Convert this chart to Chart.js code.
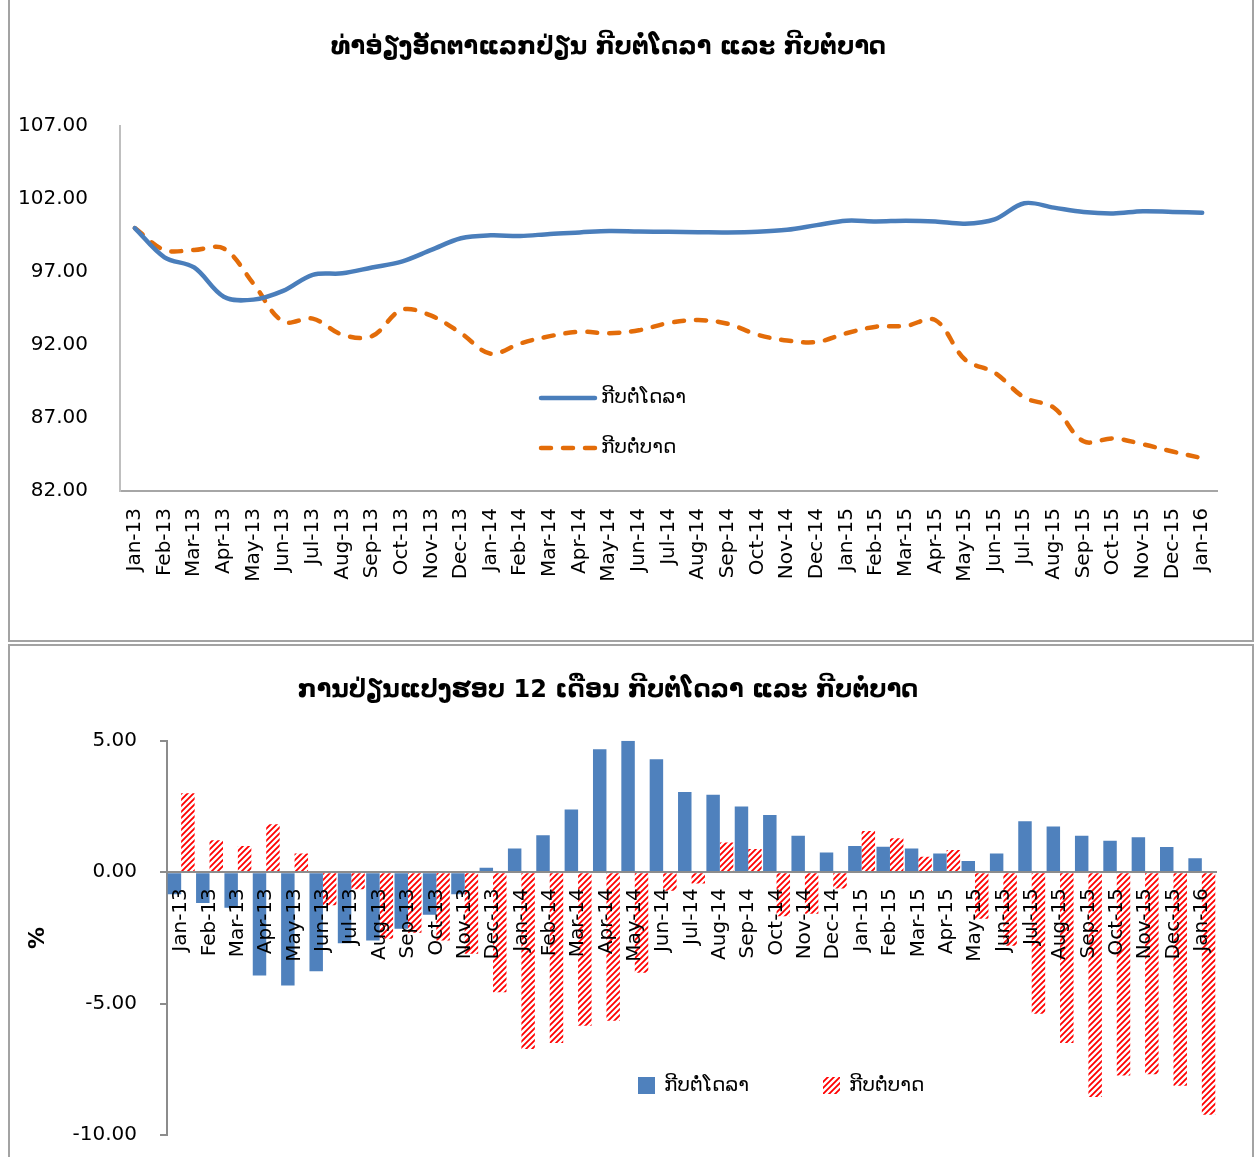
<!DOCTYPE html>
<html>
<head>
<meta charset="utf-8">
<script src="https://cdn.jsdelivr.net/npm/chart.js@4.4.1/dist/chart.umd.min.js"></script>
<style>
  html, body { margin: 0; padding: 0; background: #fff; overflow: hidden; }
  body { width: 1257px; height: 1157px; position: relative; }
  .panel { position: absolute; box-sizing: border-box; border: 2px solid #a3a3a3; }
  #p1 { left: 8px; top: -5px; width: 1246px; height: 647px; }
  #p2 { left: 8px; top: 644px; width: 1246px; height: 530px; }
  canvas { position: absolute; left: 0; }
  #lineChart { top: 0; }
  #barChart { top: 645px; }
</style>
</head>
<body>
<div class="panel" id="p1"></div>
<div class="panel" id="p2"></div>
<canvas id="lineChart" width="1257" height="642"></canvas>
<canvas id="barChart" width="1257" height="525"></canvas>
<script>
// DATA
const months = ['Jan-13', 'Feb-13', 'Mar-13', 'Apr-13', 'May-13', 'Jun-13', 'Jul-13', 'Aug-13', 'Sep-13', 'Oct-13', 'Nov-13', 'Dec-13',
    'Jan-14', 'Feb-14', 'Mar-14', 'Apr-14', 'May-14', 'Jun-14', 'Jul-14', 'Aug-14', 'Sep-14', 'Oct-14', 'Nov-14', 'Dec-14',
    'Jan-15', 'Feb-15', 'Mar-15', 'Apr-15', 'May-15', 'Jun-15', 'Jul-15', 'Aug-15', 'Sep-15', 'Oct-15', 'Nov-15', 'Dec-15', 'Jan-16'];

const usdLabel = 'ກີບຕໍ່ໂດລາ';
const thbLabel = 'ກີບຕໍ່ບາດ';
const title1 = 'ທ່າອ່ຽງອັດຕາແລກປ່ຽນ ກີບຕໍ່ໂດລາ ແລະ ກີບຕໍ່ບາດ';
const title2 = 'ການປ່ຽນແປງຮອບ 12 ເດືອນ ກີບຕໍ່ໂດລາ ແລະ ກີບຕໍ່ບາດ';

// index, Jan-13 = 100
const kipUsd = [100, 98.0, 97.3, 95.3, 95.1, 95.7, 96.8, 96.9, 97.3, 97.7, 98.5, 99.3,
    99.5, 99.45, 99.6, 99.7, 99.8, 99.76, 99.74, 99.72, 99.7, 99.74, 99.88, 100.2,
    100.5, 100.45, 100.5, 100.45, 100.3, 100.6, 101.7, 101.4, 101.1, 101.0, 101.15, 101.1, 101.05];
const kipThb = [100, 98.5, 98.5, 98.6, 96.2, 93.6, 93.8, 92.7, 92.6, 94.4, 94.0, 92.8,
    91.4, 92.1, 92.6, 92.9, 92.8, 93.0, 93.5, 93.7, 93.45, 92.7, 92.3, 92.2,
    92.8, 93.25, 93.3, 93.7, 91.0, 90.1, 88.4, 87.7, 85.4, 85.6, 85.2, 84.7, 84.25];
const indexTicks = [82, 87, 92, 97, 102, 107];

// 12-month change, %
const usdChange = [-0.84, -1.17, -1.35, -3.93, -4.31, -3.77, -2.7, -2.6, -2.15, -1.62, -0.84, 0.17,
    0.9, 1.41, 2.39, 4.68, 5.0, 4.3, 3.05, 2.95, 2.5, 2.18, 1.39, 0.75,
    1.0, 0.97, 0.9, 0.71, 0.43, 0.71, 1.94, 1.74, 1.39, 1.2, 1.33, 0.96, 0.53];
const thbChange = [3.0, 1.22, 1.0, 1.82, 0.71, -1.26, -0.65, -2.53, -2.3, -2.6, -3.1, -4.57,
    -6.73, -6.5, -5.84, -5.65, -3.83, -0.71, -0.43, 1.13, 0.88, -1.68, -1.58, -0.62,
    1.57, 1.29, 0.59, 0.84, -1.77, -2.8, -5.39, -6.5, -8.55, -7.74, -7.69, -8.13, -9.23];
const changeTicks = [-10, -5, 0, 5];

const FONT = 'DejaVu Sans';
const blue = '#4a7ebb';
const orange = '#e36c09';
const barBlue = '#4f81bd';

// red diagonal hatch like the excel pattern fill
function hatch() {
    const t = document.createElement('canvas');
    t.width = 6; t.height = 6;
    const g = t.getContext('2d');
    g.fillStyle = '#fff';
    g.fillRect(0, 0, 6, 6);
    g.strokeStyle = '#ff0000';
    g.lineWidth = 1.8;
    g.beginPath();
    g.moveTo(-1, 7); g.lineTo(7, -1);
    g.moveTo(-4, 4); g.lineTo(4, -4);
    g.moveTo(2, 10); g.lineTo(10, 2);
    g.stroke();
    return g.createPattern(t, 'repeat');
}
const redHatch = hatch();

// legend drawn inside the plot, as in the original
const insideLegend = {
    id: 'insideLegend',
    afterDraw(chart, args, opts) {
        const c = chart.ctx;
        c.save();
        c.font = '20px "' + FONT + '"';
        c.fillStyle = '#000';
        c.textBaseline = 'middle';
        c.textAlign = 'left';
        opts.items.forEach((it, i) => {
            const ds = chart.data.datasets[i];
            if (opts.kind === 'line') {
                c.strokeStyle = ds.borderColor;
                c.lineWidth = ds.borderWidth;
                c.lineCap = 'round';
                c.setLineDash(ds.borderDash || []);
                c.beginPath();
                c.moveTo(it.x, it.y);
                c.lineTo(it.x + 54, it.y);
                c.stroke();
                c.setLineDash([]);
                c.fillText(ds.label, it.x + 60, it.y);
            } else {
                c.fillStyle = ds.backgroundColor;
                c.fillRect(it.x, it.y - 9, 17, 17);
                c.fillStyle = '#000';
                c.fillText(ds.label, it.x + 26, it.y);
            }
        });
        c.restore();
    }
};

// CHART 1 - index
new Chart(document.querySelector('#lineChart'), {
    type: 'line',
    data: {
        labels: months,
        datasets: [
            {
                label: usdLabel,
                data: kipUsd,
                borderColor: blue,
                borderWidth: 4.5,
                borderCapStyle: 'round',
                pointRadius: 0,
                tension: 0.35
            },
            {
                label: thbLabel,
                data: kipThb,
                borderColor: orange,
                borderWidth: 4.5,
                borderDash: [10, 12],
                borderCapStyle: 'round',
                pointRadius: 0,
                tension: 0.35
            }
        ]
    },
    plugins: [insideLegend],
    options: {
        responsive: false,
        animation: false,
        layout: { padding: { left: 0, right: 40, top: 0, bottom: 0 } },
        plugins: {
            legend: { display: false },
            tooltip: { enabled: false },
            title: {
                display: true,
                text: title1,
                color: '#000',
                font: { family: FONT, size: 24, weight: 'bold' },
                padding: { top: 33, bottom: 64 }
            },
            insideLegend: { kind: 'line', items: [{ x: 541, y: 398 }, { x: 541, y: 448 }] }
        },
        scales: {
            x: {
                offset: true,
                grid: { display: false, drawTicks: false },
                border: { color: '#a6a6a6', width: 2 },
                ticks: {
                    autoSkip: false, minRotation: 90, maxRotation: 90, padding: 17,
                    color: '#000', font: { family: FONT, size: 20 }
                },
                afterFit: s => { s.height = 151; }
            },
            y: {
                min: 82,
                max: 107,
                afterBuildTicks: s => { s.ticks = indexTicks.map(v => ({ value: v })); },
                grid: { display: false, drawTicks: false },
                border: { color: '#bfbfbf', width: 2 },
                ticks: {
                    padding: 32, color: '#000', font: { family: FONT, size: 20 },
                    callback: v => v.toFixed(2)
                },
                afterFit: s => { s.width = 120; }
            }
        }
    }
});

// CHART 2 - 12 month change
new Chart(document.querySelector('#barChart'), {
    type: 'bar',
    data: {
        labels: months,
        datasets: [
            { label: usdLabel, data: usdChange, backgroundColor: barBlue, categoryPercentage: 0.95, barPercentage: 1.0 },
            { label: thbLabel, data: thbChange, backgroundColor: redHatch, categoryPercentage: 0.95, barPercentage: 1.0 }
        ]
    },
    plugins: [insideLegend],
    options: {
        responsive: false,
        animation: false,
        layout: { padding: { left: 0, right: 41, top: 0, bottom: 11 } },
        plugins: {
            legend: { display: false },
            tooltip: { enabled: false },
            title: {
                display: true,
                text: title2,
                color: '#000',
                font: { family: FONT, size: 24, weight: 'bold' },
                padding: { top: 31, bottom: 36 }
            },
            insideLegend: { kind: 'bar', items: [{ x: 638, y: 441 }, { x: 823, y: 441 }] }
        },
        scales: {
            x: {
                position: { y: 0 },
                z: 1,
                grid: { display: false, drawTicks: false },
                border: { color: '#8c8c8c', width: 2, z: 1 },
                ticks: {
                    z: 1,
                    autoSkip: false, minRotation: 90, maxRotation: 90, padding: 16,
                    color: '#000', font: { family: FONT, size: 20 }
                }
            },
            y: {
                min: -10,
                max: 5,
                afterBuildTicks: s => { s.ticks = changeTicks.map(v => ({ value: v })); },
                grid: { drawOnChartArea: false, drawTicks: true, tickLength: 7, color: '#8c8c8c', lineWidth: 2 },
                border: { color: '#8c8c8c', width: 2 },
                ticks: {
                    padding: 23, color: '#000', font: { family: FONT, size: 20 },
                    callback: v => v.toFixed(2)
                },
                title: {
                    display: true, text: '%', color: '#000',
                    font: { family: FONT, size: 22, weight: 'bold' },
                    padding: { top: 25, bottom: 0 }
                },
                afterFit: s => { s.width = 167; }
            }
        }
    }
});
</script>
</body>
</html>
